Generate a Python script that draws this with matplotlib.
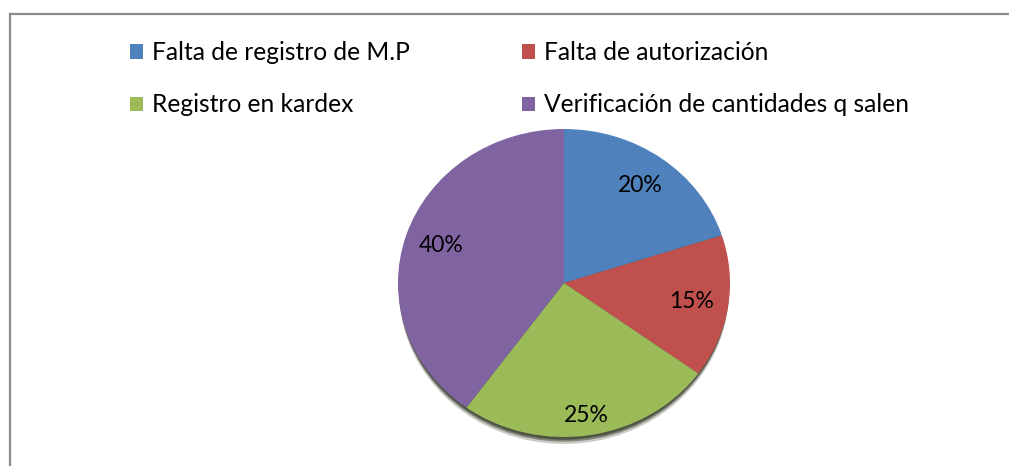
import matplotlib
matplotlib.use("Agg")
import matplotlib.pyplot as plt
from matplotlib.patches import Patch, Ellipse
from matplotlib.lines import Line2D

categories = ["Falta de registro de M.P", "Falta de autorización",
              "Registro en kardex", "Verificación de cantidades q salen"]
values = [20, 15, 25, 40]
colors = ["#4F81BD", "#C0504D", "#9BBB59", "#8064A2"]

plt.rcParams['font.family'] = ['Lato', 'DejaVu Sans']

W, H = 1009, 466
fig = plt.figure(figsize=(W / 100, H / 100), dpi=100)
fig.patch.set_facecolor("white")

# pie axes: center (564, 283) px, radii 166 x 154 px, limits +-1.2
lim = 1.2
rx, ry = 166, 154
cx, cy = 564, 283
aw, ah = 2 * lim * rx, 2 * lim * ry
ax = fig.add_axes([(cx - aw / 2) / W, ((H - cy) - ah / 2) / H, aw / W, ah / H])

# shadow
for dy, a in [(-0.045, 0.25), (-0.03, 0.45), (-0.018, 0.6)]:
    ax.add_patch(Ellipse((0.0, dy), 1.99, 2.0, facecolor="#2e3320", alpha=a,
                         edgecolor="none", zorder=0))

wedges, texts, autotexts = ax.pie(
    values, colors=colors, startangle=90, counterclock=False,
    autopct=lambda p: f"{p:.0f}%", pctdistance=0.78,
    wedgeprops=dict(linewidth=0, zorder=1),
    textprops=dict(fontsize=16.5, color="black"))
ax.set_aspect("auto")
ax.set_xlim(-lim, lim)
ax.set_ylim(-lim, lim)
for w in wedges:
    w.set_zorder(1)
for t in autotexts:
    t.set_zorder(3)
# the 25% label sits further out in the reference
x, y = autotexts[2].get_position()
autotexts[2].set_position((x * 0.87 / 0.78, y * 0.87 / 0.78))

# legend (row-major order: matplotlib fills columns first)
order = [0, 2, 1, 3]
handles = [Patch(facecolor=colors[i], edgecolor="none") for i in order]
labels = [categories[i] for i in order]
leg = fig.legend(handles, labels, ncol=2, loc="upper left",
                 bbox_to_anchor=(130 / W, 1 - 41 / H), frameon=False,
                 fontsize=17.7, handlelength=0.53, handleheight=0.53,
                 handletextpad=0.37, columnspacing=4.55, labelspacing=1.2,
                 borderpad=0, borderaxespad=0)

# chart border (top and left)
fig.add_artist(Line2D([9.5 / W, 9.5 / W], [0, 1 - 13.5 / H], color="#8c8c8c",
                      lw=1.6, transform=fig.transFigure))
fig.add_artist(Line2D([9.5 / W, 1], [1 - 13.5 / H, 1 - 13.5 / H], color="#8c8c8c",
                      lw=1.6, transform=fig.transFigure))

fig.savefig("out.png", dpi=100)
